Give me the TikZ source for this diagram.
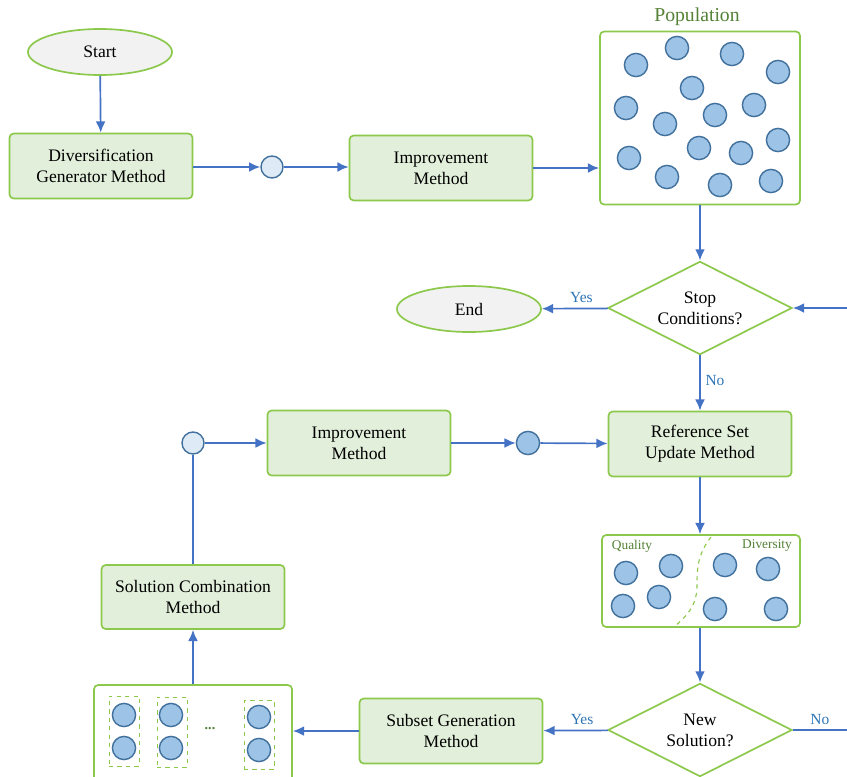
\documentclass[tikz,border=0pt]{standalone}
\usepackage{fontspec}
\setmainfont{Liberation Serif}
\usepackage{tikz}
\usetikzlibrary{arrows.meta,shapes.geometric}
\definecolor{flowblue}{HTML}{4472C4}
\definecolor{boxgreen}{HTML}{8CC84B}
\definecolor{boxfill}{HTML}{E2EFDA}
\definecolor{dotfill}{HTML}{9DC3E6}
\definecolor{dotedge}{HTML}{41719C}
\definecolor{lightdot}{HTML}{DEEBF7}
\definecolor{labblue}{HTML}{2E75B6}
\definecolor{txtgreen}{HTML}{538135}
\definecolor{termfill}{HTML}{F2F2F2}

\begin{document}
\begin{tikzpicture}[x=0.025cm, y=-0.025cm]
  \tikzset{
    box/.style={draw=boxgreen, line width=1.2pt, rectangle, fill=boxfill, rounded corners=3pt, minimum width=4.575cm, minimum height=1.625cm, align=center, font=\fontsize{12.5}{15}\selectfont},
    term/.style={draw=boxgreen, line width=1.2pt, ellipse, fill=termfill, minimum width=3.6cm, minimum height=1.15cm, font=\fontsize{12.5}{15}\selectfont},
    dec/.style={draw=boxgreen, line width=1.2pt, diamond, aspect=2, inner sep=0pt, minimum width=4.6cm, minimum height=2.33cm, align=center, font=\fontsize{12.5}{15}\selectfont},
    pool/.style={draw=boxgreen, line width=1.2pt, rectangle, rounded corners=3pt, fill=white},
    grp/.style={draw=boxgreen, dashed, line width=0.6pt, minimum width=0.75cm},
    dot/.style={draw=dotedge, line width=1pt, circle, fill=dotfill, minimum size=0.58cm, inner sep=0pt},
    hub/.style={draw=dotedge, line width=1pt, circle, fill=lightdot, minimum size=0.55cm, inner sep=0pt},
    lab/.style={text=labblue, font=\fontsize{11}{13}\selectfont},
    glab/.style={text=txtgreen},
    line/.style={draw=flowblue, line width=1.2pt, -{Latex[length=8pt,width=7pt]}},
    conn/.style={draw=flowblue, line width=1.2pt},
  }
  \useasboundingbox (0,0) rectangle (847,776);

  % top row
  \node [term] (start) at (100,52) {Start};
  \node [box] (div) at (101,166) {Diversification\\Generator Method};
  \node [hub] (c1) at (272,167) {};
  \node [box] (imp1) at (441,168) {Improvement\\Method};
  \node [pool, minimum width=5cm, minimum height=4.325cm] (pop) at (700,118) {};
  \node [glab, font=\fontsize{14}{16}\selectfont] (poplab) at (697,17) {Population};
  \foreach \px/\py [count=\i] in {636/65, 677/48, 732/54, 778/72, 692/88, 626/108, 665/124, 715/115,
      754/105, 629/158, 699/148, 741/153, 778/140, 667/177, 720/185, 771/181}
    \node [dot] (p\i) at (\px,\py) {};

  % stop test
  \node [dec] (stop) at (700,308) {Stop\\Conditions?};
  \node [term] (end) at (469,309) {End};
  \coordinate (back) at (847,308);

  % middle row
  \node [box] (ref) at (700,444) {Reference Set\\Update Method};
  \node [dot] (c2) at (528,443) {};
  \node [box] (imp2) at (359,443) {Improvement\\Method};
  \node [hub] (c3) at (193,443) {};

  % reference set
  \node [pool, minimum width=4.95cm, minimum height=2.3cm] (qd) at (701,581) {};
  \node [glab, font=\fontsize{9.5}{11}\selectfont] (qual) at (632,546) {Quality};
  \node [glab, font=\fontsize{9.5}{11}\selectfont] (dive) at (767,546) {Diversity};
  \draw [boxgreen, dashed, line width=0.8pt] (711,537) .. controls (697,555) and (697,570) .. (697,585)
    .. controls (697,605) and (688,615) .. (674,627);
  \foreach \px/\py [count=\i] in {626/573, 671/566, 725/565, 768/569, 623/606, 659/597, 715/609, 776/609}
    \node [dot] (q\i) at (\px,\py) {};

  % combination
  \node [box, minimum height=1.6cm] (sol) at (193,597) {Solution Combination\\Method};

  % bottom row
  \node [dec] (new) at (700,730) {New\\Solution?};
  \coordinate (out) at (847,730);
  \node [box] (sub) at (451,731) {Subset Generation\\Method};
  \node [pool, minimum width=4.95cm, minimum height=2.75cm] (bag) at (193,740) {};
  \node [grp, minimum height=1.75cm] (g1) at (124,731) {};
  \node [grp, minimum height=1.75cm] (g2) at (172,732) {};
  \node [grp, minimum height=1.72cm] (g3) at (259,735) {};
  \node [dot] (s1) at (124,715) {};
  \node [dot] (s2) at (124,748) {};
  \node [dot] (s3) at (171,715) {};
  \node [dot] (s4) at (171,748) {};
  \node [dot] (s5) at (259,717) {};
  \node [dot] (s6) at (259,750) {};
  \node [glab, font=\bfseries] (more) at (210,729) {...};

  \path [line] (start) -- (div);
  \path [line] (div.east |- c1) -- (c1);
  \path [line] (c1) -- (c1 -| imp1.west);
  \path [line] (imp1.east) -- (imp1.east -| pop.west);
  \path [line] (pop) -- (stop);
  \path [line] (back) -- (stop);
  \path [line] (stop) -- node [lab, above, pos=0.4] {Yes} (end);
  \path [line] (stop) -- node [lab, right, pos=0.45] {No} (ref);
  \path [line] (ref) -- (qd.north -| ref);
  \path [line] (qd.south -| ref) -- (new);
  \path [line] (new) -- node [lab, above, pos=0.4] {Yes} (sub);
  \path [conn] (new) -- node [lab, above, pos=0.5] {No} (out);
  \path [line] (sub) -- (sub -| bag.east);
  \path [line] (bag) -- (sol);
  \path [conn] (sol) -- (c3);
  \path [line] (c3) -- (imp2);
  \path [line] (imp2) -- (c2);
  \path [line] (c2) -- (ref);
\end{tikzpicture}
\end{document}
